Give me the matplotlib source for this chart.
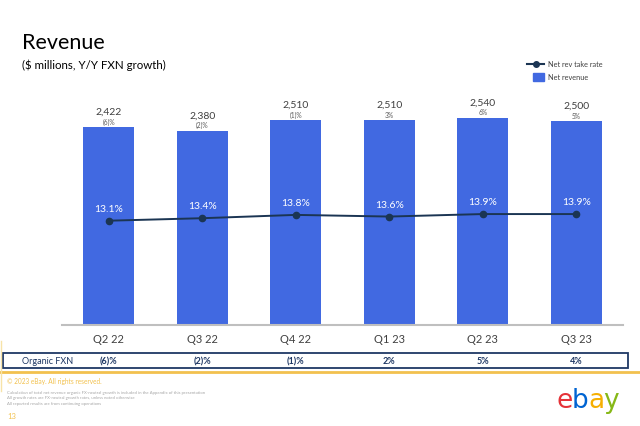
import matplotlib
matplotlib.use('Agg')
import matplotlib.pyplot as plt
from matplotlib.transforms import blended_transform_factory
from matplotlib.patches import Rectangle
from matplotlib.lines import Line2D

plt.rcParams['font.family'] = ['Lato', 'DejaVu Sans']

quarters = ['Q2 22', 'Q3 22', 'Q4 22', 'Q1 23', 'Q2 23', 'Q3 23']
net_revenue = [2422, 2380, 2510, 2510, 2540, 2500]
yy_growth = ['(6)%', '(2)%', '(1)%', '3%', '6%', '5%']
take_rate = [13.1, 13.4, 13.8, 13.6, 13.9, 13.9]
organic_fxn = ['(6)%', '(2)%', '(1)%', '2%', '5%', '4%']

W, H = 640, 427
BLUE = '#4169E1'
NAVY = '#1B3553'
BOX = '#1F3864'
GREY = '#404040'
GOLD = '#F2C14E'


def fx(px):
    return px / W


def fy(py):
    return 1 - py / H


fig = plt.figure(figsize=(6.4, 4.27), dpi=100)

# main chart area: baseline at y=326px, top at 90px
ax = fig.add_axes([fx(62), fy(326), fx(623 - 62), (326 - 90) / H])
x = list(range(len(quarters)))
bars = ax.bar(x, net_revenue, width=0.545, color=BLUE, zorder=2)
ax.set_xlim(-0.5, 5.5)
ax.set_ylim(0, 236 / 0.0816)
for s in ['top', 'right', 'left']:
    ax.spines[s].set_visible(False)
ax.spines['bottom'].set_color('#BFBFBF')
ax.spines['bottom'].set_linewidth(1.5)
ax.set_yticks([])
ax.set_xticks(x)
ax.set_xticklabels(quarters, fontsize=8, color=GREY)
ax.tick_params(axis='x', length=0, pad=5.5)

for xi, v, g in zip(x, net_revenue, yy_growth):
    ax.annotate(f'{v:,}', (xi, v), xytext=(0, 11.5), textcoords='offset points',
                ha='center', va='center', fontsize=7.5, color=GREY)
    ax.annotate(g, (xi, v), xytext=(0, 4.3), textcoords='offset points',
                ha='center', va='center', fontsize=4.8, color='#595959')

# take rate on a second axis
ax2 = ax.twinx()
k = 8.3
lo = 13.1 - (326 - 221.7) / k
ax2.set_ylim(lo, lo + 236 / k)
ax2.plot(x, take_rate, color=NAVY, lw=1.4, marker='o', ms=4.5, zorder=3)
ax2.axis('off')
for xi, t in zip(x, take_rate):
    ax2.annotate(f'{t}%', (xi, t), xytext=(0, 9), textcoords='offset points',
                 ha='center', va='center', fontsize=7.5, color='white')

# legend
fig.add_artist(Line2D([fx(527), fx(544)], [fy(65), fy(65)], color=NAVY, lw=1.5,
                      transform=fig.transFigure))
fig.add_artist(Line2D([fx(535.5)], [fy(65)], color=NAVY, marker='o', ms=4,
                      transform=fig.transFigure))
fig.patches.append(Rectangle((fx(533), fy(82)), fx(11), 8 / H, color=BLUE,
                             transform=fig.transFigure))
fig.text(fx(548), fy(65), 'Net rev take rate', fontsize=5.3, color=GREY, va='center')
fig.text(fx(548), fy(78), 'Net revenue', fontsize=5.3, color=GREY, va='center')

# titles
fig.text(fx(22), fy(43), 'Revenue', fontsize=15.5, color='black', va='center')
fig.text(fx(22), fy(65), '($ millions, Y/Y FXN growth)', fontsize=8.3, color='black', va='center')

# organic FXN row
fig.patches.append(Rectangle((fx(3), fy(369)), fx(628 - 3), 15 / H, fill=False,
                             edgecolor=BOX, lw=1.3, transform=fig.transFigure))
fig.text(fx(48), fy(362), 'Organic FXN', fontsize=6.5, color=BOX, ha='center', va='center')
tr = blended_transform_factory(ax.transData, fig.transFigure)
for xi, o in zip(x, organic_fxn):
    ax.text(xi, fy(362), o, transform=tr, fontsize=6.5, color=BOX,
            fontweight='bold', ha='center', va='center', clip_on=False)

# footer
fig.add_artist(Line2D([0, 1], [fy(373), fy(373)], color=GOLD, lw=2,
                      transform=fig.transFigure))
fig.add_artist(Line2D([fx(0.6), fx(0.6)], [fy(342), fy(392)], color='#F7E3A8', lw=1,
                      transform=fig.transFigure))
fig.text(fx(7), fy(382), '\u00a9 2023 eBay. All rights reserved.', fontsize=4.7,
         color=GOLD, va='center')
notes = ['Calculation of total net revenue organic FX-neutral growth is included in the Appendix of this presentation',
         'All growth rates are FX-neutral growth rates, unless noted otherwise',
         'All reported results are from continuing operations']
for i, n in enumerate(notes):
    fig.text(fx(7), fy(393 + 5.5 * i), n, fontsize=3.1, color='#A6A6A6', va='center')
fig.text(fx(7), fy(417), '13', fontsize=5.5, color=GOLD, va='center')

# ebay wordmark
logo = [('e', '#E53238', 557), ('b', '#0064D2', 572), ('a', '#F5AF02', 588), ('y', '#86B817', 603)]
for ch, c, px in logo:
    fig.text(fx(px), fy(408), ch, fontsize=19, color=c, va='baseline', ha='left',
             family='DejaVu Sans')

fig.savefig('out.png', dpi=100)
